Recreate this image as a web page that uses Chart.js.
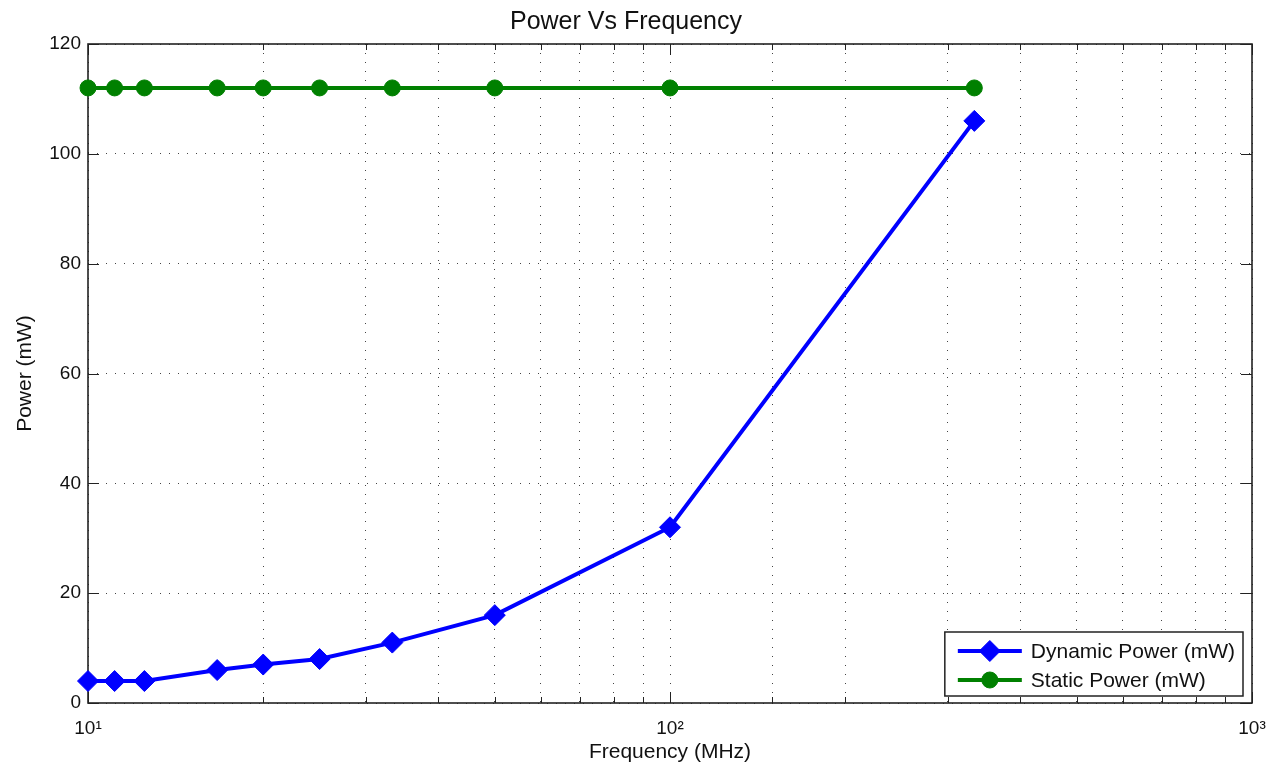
<!DOCTYPE html>
<html>
<head>
<meta charset="utf-8">
<title>Power Vs Frequency</title>
<script src="https://cdn.jsdelivr.net/npm/chart.js@4.4.1/dist/chart.umd.min.js"></script>
<style>
  html, body { margin: 0; padding: 0; background: #fff; overflow: hidden; }
  #wrap { width: 1267px; height: 776px; }
</style>
</head>
<body>
<div id="wrap"><canvas id="chart" width="1267" height="776"></canvas></div>
<script>
// ── data ──────────────────────────────────────────────────────────────────────

var frequencies  = [10, 11.11, 12.5, 16.67, 20, 25, 33.33, 50, 100, 333.33];
var dynamicPower = [4, 4, 4, 6, 7, 8, 11, 16, 32, 106];
var staticPower  = [112, 112, 112, 112, 112, 112, 112, 112, 112, 112];

var seriesLabels = ["Dynamic Power (mW)", "Static Power (mW)"];
var xTickValues  = [10, 100, 1000];
var xTickLabels  = ["10\u00b9", "10\u00b2", "10\u00b3"];
var yTickValues  = [0, 20, 40, 60, 80, 100, 120];

var FONT = "'Liberation Sans', Arial, Helvetica, sans-serif";

function toPoints(xs, ys) {
  return xs.map(function(x, i) { return { x: x, y: ys[i] }; });
}

// ── plugins ───────────────────────────────────────────────────────────────────

// box around the axes + inward tick marks on all four sides
var frameTicks = {
  id: "frameTicks",
  beforeDatasetsDraw: function(chart) {
    var a = chart.chartArea, ctx = chart.ctx;
    var xs = chart.scales.x, ys = chart.scales.y;
    ctx.save();
    ctx.strokeStyle = "#222";
    ctx.lineWidth = 1;
    ctx.beginPath();
    xs.ticks.forEach(function(t) {
      var px = Math.round(xs.getPixelForValue(t.value)) + 0.5;
      var lg = Math.log10(t.value);
      var len = Math.abs(lg - Math.round(lg)) < 1e-6 ? 11 : 6;
      ctx.moveTo(px, a.bottom); ctx.lineTo(px, a.bottom - len);
      ctx.moveTo(px, a.top);    ctx.lineTo(px, a.top + len);
    });
    yTickValues.forEach(function(v) {
      var py = Math.round(ys.getPixelForValue(v)) + 0.5;
      ctx.moveTo(a.left, py);  ctx.lineTo(a.left + 11, py);
      ctx.moveTo(a.right, py); ctx.lineTo(a.right - 11, py);
    });
    ctx.stroke();
    ctx.lineWidth = 1.6;
    ctx.strokeRect(a.left, a.top, a.right - a.left, a.bottom - a.top);
    ctx.restore();
  }
};

// legend box in the lower right corner of the plot
var cornerLegend = {
  id: "cornerLegend",
  afterDraw: function(chart) {
    var a = chart.chartArea, ctx = chart.ctx;
    ctx.save();
    ctx.font = "21px " + FONT;
    var textW = 0;
    chart.data.datasets.forEach(function(ds) {
      textW = Math.max(textW, ctx.measureText(ds.label).width);
    });
    var w = 86 + textW + 8, h = 64;
    var x0 = a.right - 9 - w, y0 = a.bottom - 7 - h;
    ctx.fillStyle = "#fff";
    ctx.fillRect(x0, y0, w, h);
    ctx.strokeStyle = "#222";
    ctx.lineWidth = 1.5;
    ctx.strokeRect(x0, y0, w, h);
    chart.data.datasets.forEach(function(ds, i) {
      var cy = y0 + 19 + i * 29;
      ctx.strokeStyle = ds.borderColor;
      ctx.lineWidth = ds.borderWidth;
      ctx.beginPath();
      ctx.moveTo(x0 + 13, cy); ctx.lineTo(x0 + 77, cy);
      ctx.stroke();
      ctx.fillStyle = ds.pointBackgroundColor;
      ctx.strokeStyle = ds.pointBorderColor;
      ctx.lineWidth = 1;
      Chart.helpers.drawPoint(ctx, {
        pointStyle: ds.pointStyle, radius: ds.pointRadius, rotation: 0, borderWidth: 1
      }, x0 + 45, cy);
      ctx.fillStyle = "#111";
      ctx.textBaseline = "middle";
      ctx.textAlign = "left";
      ctx.fillText(ds.label, x0 + 86, cy + 1);
    });
    ctx.restore();
  }
};

// ── chart ─────────────────────────────────────────────────────────────────────

new Chart(document.getElementById("chart").getContext("2d"), {
  type: "line",
  data: {
    datasets: [
      {
        label: seriesLabels[0],
        data: toPoints(frequencies, dynamicPower),
        borderColor: "#0000ff",
        borderWidth: 4,
        pointStyle: "rectRot",
        pointRadius: 10.5,
        pointBorderWidth: 1,
        pointBackgroundColor: "#0000ff",
        pointBorderColor: "#0000ff",
        tension: 0,
        clip: false
      },
      {
        label: seriesLabels[1],
        data: toPoints(frequencies, staticPower),
        borderColor: "#008000",
        borderWidth: 4,
        pointStyle: "circle",
        pointRadius: 8,
        pointBorderWidth: 1,
        pointBackgroundColor: "#008000",
        pointBorderColor: "#008000",
        tension: 0,
        clip: false
      }
    ]
  },
  options: {
    responsive: false,
    animation: false,
    devicePixelRatio: 1,
    layout: { padding: { left: 0, right: 15, top: 0, bottom: 0 } },
    plugins: {
      legend: { display: false },
      tooltip: { enabled: false },
      title: {
        display: true,
        text: "Power Vs Frequency",
        color: "#111",
        font: { family: FONT, size: 25, weight: "normal" },
        padding: { top: 7, bottom: 7 }
      }
    },
    scales: {
      x: {
        type: "logarithmic",
        min: 10,
        max: 1000,
        border: { display: false, dash: [1, 8] },
        grid: { color: "#444", lineWidth: 1, drawTicks: false },
        ticks: {
          color: "#111",
          font: { family: FONT, size: 19 },
          padding: 14,
          autoSkip: false,
          maxRotation: 0,
          callback: function(value) {
            var i = xTickValues.findIndex(function(v) { return Math.abs(v - value) < 1e-6; });
            return i >= 0 ? xTickLabels[i] : "";
          }
        },
        title: {
          display: true,
          text: "Frequency (MHz)",
          color: "#111",
          font: { family: FONT, size: 21 },
          padding: { top: 0, bottom: 11 }
        },
        afterFit: function(scale) {
          scale.height = 73;
          scale.paddingLeft = 0;
          scale.paddingRight = 0;
        }
      },
      y: {
        min: 0,
        max: 120,
        border: { display: false, dash: [1, 8] },
        grid: { color: "#444", lineWidth: 1, drawTicks: false },
        ticks: {
          stepSize: 20,
          color: "#111",
          font: { family: FONT, size: 19 },
          padding: 7
        },
        title: {
          display: true,
          text: "Power (mW)",
          color: "#111",
          font: { family: FONT, size: 21 },
          padding: { top: 13, bottom: 0 }
        },
        afterFit: function(scale) {
          scale.width = 88;
          scale.paddingTop = 0;
          scale.paddingBottom = 0;
        }
      }
    }
  },
  plugins: [frameTicks, cornerLegend]
});
</script>
</body>
</html>
